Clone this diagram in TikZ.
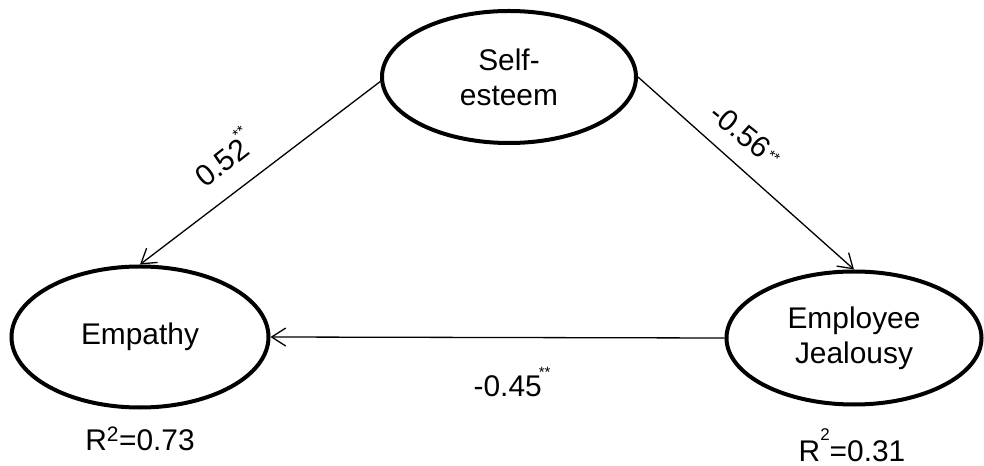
\documentclass[tikz,border=0pt]{standalone}
\usepackage{fontspec}
\setmainfont{Liberation Sans}
\usetikzlibrary{shapes.geometric,arrows.meta}
\begin{document}
\begin{tikzpicture}[x=1bp,y=-1bp,
  latent/.style={ellipse, draw, line width=4bp, inner sep=0pt, align=center,
    font=\fontsize{30}{35}\selectfont},
  pathline/.style={line width=1.3bp, -{Straight Barb[length=14bp,width=18bp,line width=1.3bp]}},
  coef/.style={font=\fontsize{30}{34}\selectfont, inner sep=0pt},
]
\useasboundingbox (0,0) rectangle (984,466);
\newcommand{\starsup}{\kern-3bp\raisebox{1.15ex}{\fontsize{15}{15}\selectfont **}}
\newcommand{\starsmid}{\kern2bp\raisebox{0.35ex}{\fontsize{15}{15}\selectfont **}}
\node[latent, minimum width=254bp, minimum height=132bp] (se) at (509,77) {Self-\\esteem};
\node[latent, minimum width=257bp, minimum height=141bp] (emp) at (140,337) {Empathy};
\node[latent, minimum width=255bp, minimum height=133bp] (jeal) at (854,338) {Employee\\Jealousy};
\draw[pathline] (se.182) -- (emp.north);
\draw[pathline] (se.east) -- (jeal.north);
\draw[pathline] (jeal.west) -- (emp.east);
\node[coef, rotate=38] (c1) at (223,157) {0.52\starsup};
\node[coef, rotate=-39] (c2) at (746,135) {-0.56\starsmid};
\node[coef] (c3) at (512,382) {-0.45\starsup};
\node[coef] (r1) at (140,439) {R\textsuperscript{2}=0.73};
\node[coef] (r2) at (852,445) {R\raisebox{1.3ex}{\fontsize{17}{17}\selectfont 2}=0.31};
\end{tikzpicture}
\end{document}
